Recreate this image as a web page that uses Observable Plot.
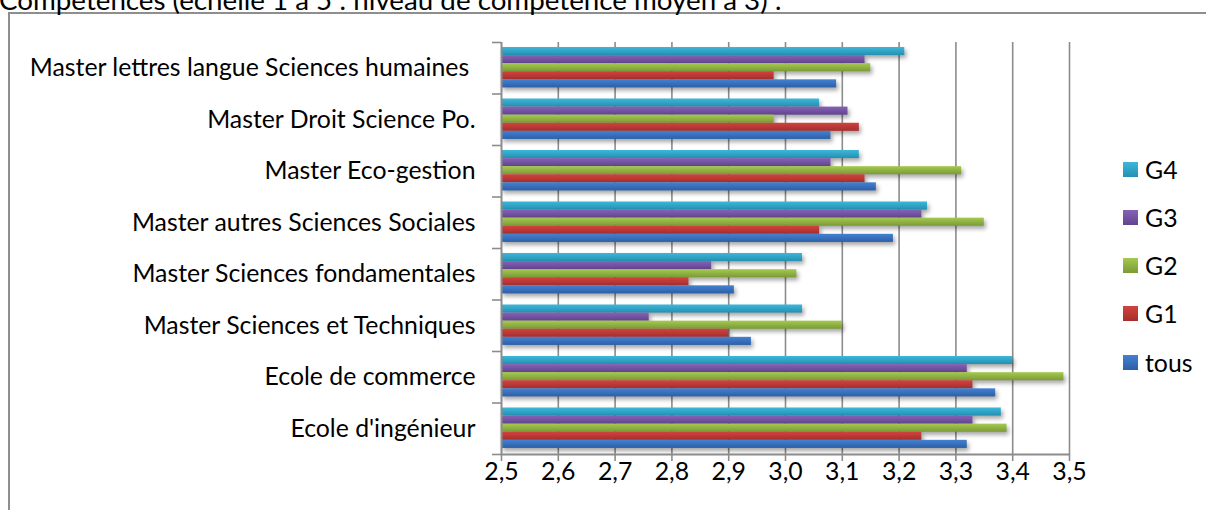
<!DOCTYPE html>
<html><head><meta charset="utf-8">
<script src="https://cdn.jsdelivr.net/npm/d3@7"></script>
<script src="https://cdn.jsdelivr.net/npm/@observablehq/plot@0.6"></script>
<style>
html,body{margin:0;padding:0;width:1206px;height:510px;overflow:hidden;background:#fff;font-family:Lato,sans-serif;}
#frame{position:absolute;left:8px;top:12px;width:1400px;height:700px;border:2px solid #8e8e8e;box-sizing:border-box;}
#title{position:absolute;left:-1px;white-space:nowrap;color:#000;line-height:1;}
#chart{position:absolute;left:0;top:0;}
#legend{position:absolute;left:0;top:0;}
#chart g[aria-label="rect"] rect{filter:drop-shadow(2px 3px 2px rgba(0,0,0,0.35));}
</style></head>
<body>
<div id="frame"></div>
<div id="title">Compétences (échelle 1 à 5 : niveau de compétence moyen à 3) :</div>
<div id="chart"></div>
<div id="legend"></div>
<script>
const categories = [
  "Master lettres langue Sciences humaines\u00a0",
  "Master Droit Science Po.",
  "Master Eco-gestion",
  "Master autres Sciences Sociales",
  "Master Sciences fondamentales",
  "Master Sciences et Techniques",
  "Ecole de commerce",
  "Ecole d'ingénieur"
];
const series = ["G4", "G3", "G2", "G1", "tous"];
const valuesG4   = [3.21, 3.06, 3.13, 3.25, 3.03, 3.03, 3.40, 3.38];
const valuesG3   = [3.14, 3.11, 3.08, 3.24, 2.87, 2.76, 3.32, 3.33];
const valuesG2   = [3.15, 2.98, 3.31, 3.35, 3.02, 3.10, 3.49, 3.39];
const valuesG1   = [2.98, 3.13, 3.14, 3.06, 2.83, 2.90, 3.33, 3.24];
const valuesTous = [3.09, 3.08, 3.16, 3.19, 2.91, 2.94, 3.37, 3.32];
const xTicks = [2.5, 2.6, 2.7, 2.8, 2.9, 3.0, 3.1, 3.2, 3.3, 3.4, 3.5];

const seriesValues = [valuesG4, valuesG3, valuesG2, valuesG1, valuesTous];
const colorTop = ["#3db7da", "#8563b5", "#a5c94f", "#d2423f", "#4381d2"];
const colorBot = ["#2590b1", "#62448f", "#7a9b36", "#a52f2d", "#2d5fa6"];

// fit text size (Lato stands in for Calibri)
const ctx = document.createElement("canvas").getContext("2d");
ctx.font = "100px Lato";
const fs = Math.max(16, Math.min(30, 440 / ctx.measureText("Master lettres langue Sciences humaines").width * 100));
const titleText = document.getElementById("title").textContent;
const tfs = Math.max(16, Math.min(30, 783 / ctx.measureText(titleText).width * 100));
const titleEl = document.getElementById("title");
titleEl.style.fontSize = tfs + "px";
titleEl.style.top = (9 - tfs * 0.82) + "px";

const rows = categories.flatMap((c, i) => series.map((s, j) => ({cat: c, ci: i, s, sj: j, v: seriesValues[j][i]})));
const pad = 0.097, bh = 0.157;
const fmt = d => d3.format(".1f")(d).replace(".", ",");
const gridColor = "#8c8c8c";

const svg = Plot.plot({
  width: 1206,
  height: 510,
  marginLeft: 501,
  marginRight: 137,
  marginTop: 42,
  marginBottom: 56,
  style: {fontFamily: "Lato, sans-serif", fontSize: fs + "px", background: "transparent", color: "#000", overflow: "visible"},
  x: {domain: [2.5, 3.5], label: null},
  y: {domain: [0, 8], reverse: true, label: null},
  marks: [
    Plot.ruleX(xTicks.slice(1), {y1: 0, y2: 8, stroke: gridColor, strokeWidth: 1.6}),
    ...series.map((s, j) => Plot.rect(rows.filter(r => r.s === s), {
      x1: 2.5, x2: "v",
      y1: d => d.ci + pad + d.sj * bh,
      y2: d => d.ci + pad + (d.sj + 1) * bh,
      fill: `url(#grad${j})`
    })),
    Plot.ruleX([2.5], {y1: 0, y2: 8, stroke: gridColor, strokeWidth: 2}),
    Plot.ruleY([8], {x1: 2.5, x2: 3.5, stroke: gridColor, strokeWidth: 2}),
    Plot.axisX(xTicks, {anchor: "bottom", label: null, tickSize: 7, tickPadding: 1, tickFormat: fmt, stroke: gridColor, strokeWidth: 1.6, fill: "#000", fontSize: fs}),
    Plot.axisY(d3.range(0, 9), {anchor: "left", label: null, tickSize: 9, tickFormat: () => "", stroke: gridColor, strokeWidth: 1.6}),
    Plot.axisY(d3.range(8).map(i => i + 0.5), {anchor: "left", label: null, tickSize: 0, tickPadding: 26, tickFormat: d => categories[Math.round(d - 0.5)], fill: "#000", fontSize: fs})
  ]
});

const defs = d3.select(svg).insert("defs", ":first-child");
series.forEach((s, j) => {
  const g = defs.append("linearGradient").attr("id", "grad" + j).attr("x1", 0).attr("y1", 0).attr("x2", 0).attr("y2", 1);
  g.append("stop").attr("offset", "0%").attr("stop-color", colorTop[j]);
  g.append("stop").attr("offset", "100%").attr("stop-color", colorBot[j]);
});
document.getElementById("chart").appendChild(svg);

// legend
const legend = document.getElementById("legend");
series.forEach((s, j) => {
  const item = document.createElement("div");
  item.style.cssText = `position:absolute;left:1123px;top:${169 + j * 48.25 - 15}px;height:30px;display:flex;align-items:center;white-space:nowrap;font-size:${fs}px;`;
  const sw = document.createElement("span");
  sw.style.cssText = `display:inline-block;width:15px;height:15px;background:linear-gradient(${colorTop[j]},${colorBot[j]});margin-right:7px;`;
  const t = document.createElement("span");
  t.textContent = s;
  item.appendChild(sw); item.appendChild(t);
  legend.appendChild(item);
});
</script>
</body></html>
